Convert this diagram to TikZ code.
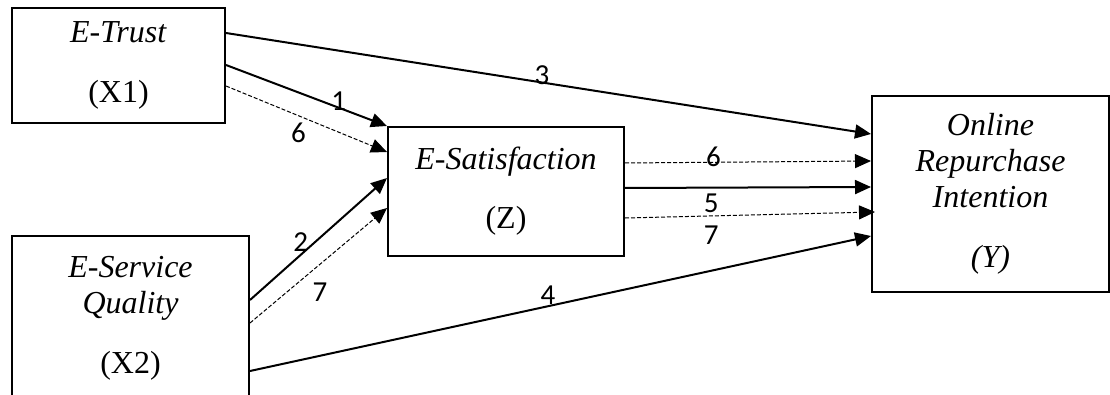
\documentclass[tikz,border=0pt]{standalone}
\usepackage{fontspec}
\setmainfont{Liberation Serif}[ItalicFont={Liberation Serif Italic}]
\newfontfamily\numfont{Carlito}
\usetikzlibrary{arrows.meta,positioning,calc}
\tikzset{
  varbox/.style={
    rectangle, draw=black, line width=2pt, align=center,
    inner sep=0pt, font=\fontsize{32}{36}\selectfont},
  pathline/.style={-{Triangle[length=16pt,width=14pt]}, line width=2pt},
  dashline/.style={pathline, line width=1pt, dash pattern=on 4pt off 2pt},
  numlabel/.style={font=\numfont\fontsize{29}{32}\selectfont, inner sep=0pt}
}

\begin{document}
\begin{tikzpicture}[x=1pt,y=1pt]
    \useasboundingbox (0,0) rectangle (1110,394);
    \clip (0,0) rectangle (1110,394);

    \node[varbox, minimum width=213pt, minimum height=115pt] (trust) at (118.5,328.5)
        {\textit{E-Trust}\\[24pt](X1)};
    \node[varbox, minimum width=237pt, minimum height=164pt, anchor=north] (qual) at (130.5,159)
        {\textit{E-Service}\\\textit{Quality}\\[24pt](X2)};
    \node[varbox, minimum width=236pt, minimum height=129pt] (sat) at (506,202.5)
        {\textit{E-Satisfaction}\\[23pt](Z)};
    \node[varbox, minimum width=237pt, minimum height=196pt] (intent) at (990.5,200)
        {\textit{Online}\\\textit{Repurchase}\\\textit{Intention}\\[24pt]\textit{(Y)}};

    % direct effects on satisfaction
    \draw[pathline] ([yshift=.5pt]trust.east) -- node[numlabel, pos=.7, yshift=7pt] {1} (sat.north west);
    \draw[dashline] ([yshift=-20.5pt]trust.east) -- node[numlabel, pos=.45, yshift=-17pt] {6} ([yshift=39.5pt]sat.west);
    \draw[pathline] ([yshift=-65pt]qual.north east) -- node[numlabel, pos=.37, yshift=13pt] {2} ([yshift=13.5pt]sat.west);
    \draw[dashline] ([yshift=-88pt]qual.north east) -- node[numlabel, pos=.51, yshift=-28pt] {7} ([yshift=-16.5pt]sat.west);

    % effects on repurchase intention
    \draw[pathline] ([yshift=32.5pt]trust.east) -- node[numlabel, pos=.49, yshift=7pt] {3} ([yshift=60pt]intent.west);
    \draw[pathline] ([yshift=-136pt]qual.north east) -- node[numlabel, pos=.48, yshift=11pt] {4} ([yshift=-42pt]intent.west);
    \draw[dashline] ([yshift=28.5pt]sat.east) -- node[numlabel, pos=.36, yshift=5pt] {6} ([yshift=33pt]intent.west);
    \draw[pathline] ([yshift=3.5pt]sat.east) -- node[numlabel, pos=.35, yshift=-16pt] {5} ([yshift=7pt]intent.west);
    \draw[dashline] ([yshift=-26.5pt]sat.east) -- node[numlabel, pos=.345, yshift=-19pt] {7} ([xshift=4pt,yshift=-18pt]intent.west);
\end{tikzpicture}
\end{document}
